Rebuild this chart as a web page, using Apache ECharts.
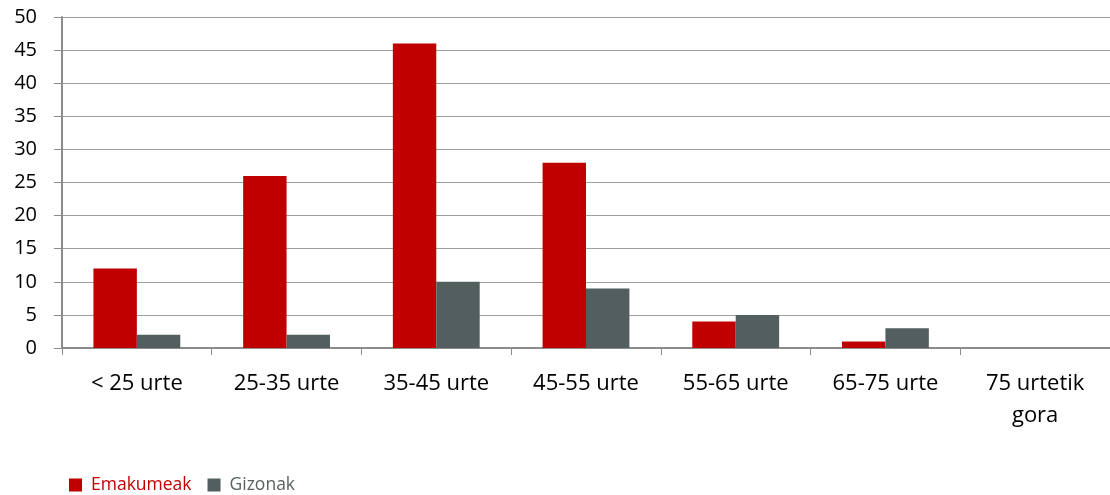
<!DOCTYPE html>
<html><head><meta charset="utf-8">
<script src="https://cdn.jsdelivr.net/npm/echarts@6/dist/echarts.min.js"></script>
<style>html,body{margin:0;padding:0;background:#fff}#c{width:1110px;height:495px}</style>
</head><body><div id="c"></div>
<script>
const categories = ['< 25 urte','25-35 urte','35-45 urte','45-55 urte','55-65 urte','65-75 urte','75 urtetik\ngora'];
const emakumeak = [12, 26, 46, 28, 4, 1, 0];
const gizonak = [2, 2, 10, 9, 5, 3, 0];
const yTicks = {min: 0, max: 50, interval: 5};
const FONT = 'Open Sans';
const chart = echarts.init(document.getElementById('c'), null, {renderer: 'canvas'});
chart.setOption({
  animation: false,
  grid: {left: 62, right: 0, top: 17, bottom: 147, containLabel: false},
  legend: {
    left: 64, top: 471, itemWidth: 13, itemHeight: 13, itemGap: 16,
    icon: 'rect',
    textStyle: {fontFamily: FONT, fontSize: 17.5, padding: [0, 0, 0, 4]},
    data: [
      {name: 'Emakumeak', textStyle: {color: '#C00000'}},
      {name: 'Gizonak', textStyle: {color: '#58615F'}}
    ]
  },
  xAxis: {
    type: 'category', data: categories,
    axisLine: {show: true, lineStyle: {color: '#8C8C8C', width: 2}},
    axisTick: {show: true, length: 7, lineStyle: {color: '#8C8C8C'}},
    axisLabel: {fontFamily: FONT, fontSize: 22, color: '#000', margin: 20, lineHeight: 32, interval: 0},
    splitLine: {show: false}
  },
  yAxis: {
    type: 'value', min: yTicks.min, max: yTicks.max, interval: yTicks.interval,
    axisLine: {show: true, lineStyle: {color: '#8C8C8C', width: 2}},
    axisTick: {show: true, length: 8, lineStyle: {color: '#8C8C8C'}},
    axisLabel: {fontFamily: FONT, fontSize: 20, color: '#000', margin: 25},
    splitLine: {show: true, lineStyle: {color: '#A0A0A0', width: 1}}
  },
  series: [
    {name: 'Emakumeak', type: 'bar', data: emakumeak, itemStyle: {color: '#C00000'}, barGap: '0%', barCategoryGap: '42%'},
    {name: 'Gizonak', type: 'bar', data: gizonak, itemStyle: {color: '#535F5F'}, barGap: '0%', barCategoryGap: '42%'}
  ]
});
</script></body></html>
